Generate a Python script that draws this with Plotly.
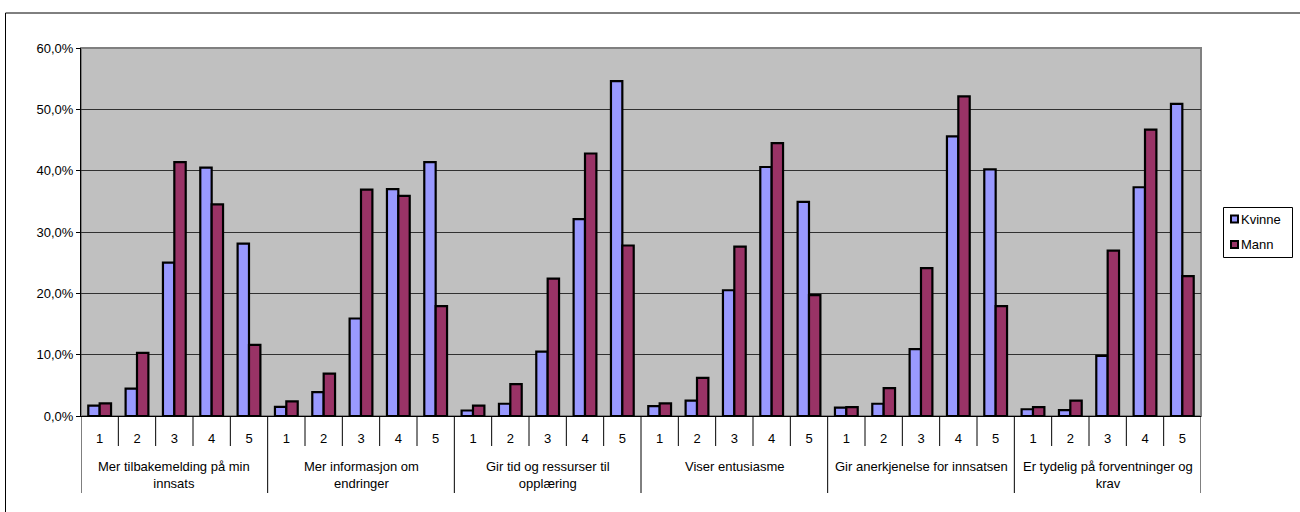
import plotly.graph_objects as go

groups = [
    "Mer tilbakemelding på min<br>innsats",
    "Mer informasjon om<br>endringer",
    "Gir tid og ressurser til<br>opplæring",
    "Viser entusiasme",
    "Gir anerkjenelse for innsatsen",
    "Er tydelig på forventninger og<br>krav",
]
subcats = ["1", "2", "3", "4", "5"]

kvinne = [
    1.7, 4.45, 25.0, 40.5, 28.1,
    1.5, 3.9, 15.9, 37.0, 41.4,
    0.9, 2.0, 10.5, 32.1, 54.6,
    1.6, 2.5, 20.5, 40.6, 34.9,
    1.35, 2.0, 10.9, 45.6, 40.2,
    1.1, 0.95, 9.8, 37.3, 50.9,
]
mann = [
    2.05, 10.3, 41.4, 34.5, 11.6,
    2.4, 6.9, 36.9, 35.9, 17.9,
    1.7, 5.2, 22.4, 42.8, 27.8,
    2.05, 6.2, 27.6, 44.5, 19.7,
    1.45, 4.55, 24.1, 52.1, 17.9,
    1.45, 2.5, 26.95, 46.7, 22.8,
]
series_names = ["Kvinne", "Mann"]
series_colors = ["#9999FF", "#993366"]
y_ticks = [0, 0.1, 0.2, 0.3, 0.4, 0.5, 0.6]

n_sub = len(subcats)
xpos = list(range(len(groups) * n_sub))
ticktext = [s for g in groups for s in subcats]

FONT = "Liberation Sans, Arial, sans-serif"

# plot area geometry (px)
L, R, T, B = 81, 1201, 48, 416
W, H = 1300, 512
ph = B - T
pw = R - L


def py(y):
    return (B - y) / ph


def px(x):
    return (x - L) / pw


fig = go.Figure()
for name, vals, col in zip(series_names, [kvinne, mann], series_colors):
    fig.add_trace(go.Bar(
        x=xpos, y=[v / 100 for v in vals], name=name,
        marker=dict(color=col, line=dict(color="#000000", width=2.2)),
        showlegend=False,
    ))

shapes = []
# grey plot border (top/right)
shapes.append(dict(type="rect", xref="paper", yref="paper", x0=0, x1=1, y0=0, y1=1,
                   line=dict(color="#808080", width=2), layer="below"))
# outer chart border
shapes.append(dict(type="rect", xref="paper", yref="paper",
                   x0=px(5.5), x1=px(1320), y0=py(13), y1=py(530),
                   line=dict(color="#000000", width=1)))
# category separators
for i in range(len(xpos) + 1):
    is_group = (i % n_sub == 0)
    shapes.append(dict(type="line", xref="x", yref="paper",
                       x0=i - 0.5, x1=i - 0.5, y0=0,
                       y1=py(493) if is_group else py(446),
                       line=dict(color="#000000", width=1)))

annotations = []
for gi, g in enumerate(groups):
    annotations.append(dict(x=gi * n_sub + (n_sub - 1) / 2, y=py(457),
                            xref="x", yref="paper", text=g, showarrow=False,
                            xanchor="center", yanchor="top", align="center",
                            font=dict(family=FONT, size=13, color="#000000")))

# legend (box, swatches, labels)
shapes.append(dict(type="rect", xref="paper", yref="paper",
                   x0=px(1223.5), x1=px(1292.5), y0=py(207.5), y1=py(257.5),
                   line=dict(color="#000000", width=1), fillcolor="#FFFFFF"))
for k, (name, col) in enumerate(zip(series_names, series_colors)):
    cy = 219 + k * 25.5
    shapes.append(dict(type="rect", xref="paper", yref="paper",
                       x0=px(1231), x1=px(1238), y0=py(cy - 3.5), y1=py(cy + 3.5),
                       line=dict(color="#000000", width=2), fillcolor=col))
    annotations.append(dict(x=px(1239), y=py(cy), xref="paper", yref="paper",
                            text=name, showarrow=False, xanchor="left",
                            yanchor="middle", align="left",
                            font=dict(family=FONT, size=13, color="#000000")))

fig.update_layout(
    width=W, height=H,
    margin=dict(l=L, r=W - R, t=T, b=H - B, pad=0),
    paper_bgcolor="#FFFFFF",
    plot_bgcolor="#C0C0C0",
    barmode="group", bargap=0.39, bargroupgap=0,
    separators=", ",
    font=dict(family=FONT, size=13, color="#000000"),
    showlegend=False,
    shapes=shapes,
    annotations=annotations,
)
fig.update_xaxes(
    range=[-0.5, len(xpos) - 0.5],
    tickvals=xpos, ticktext=ticktext, ticks="", ticklabelstandoff=10,
    showline=True, linecolor="#000000", linewidth=1,
    showgrid=False, zeroline=False,
    tickfont=dict(family=FONT, size=13, color="#000000"),
)
fig.update_yaxes(
    range=[0, 0.6], tickvals=y_ticks, tickformat=".1%",
    ticks="outside", ticklen=4, tickcolor="#000000",
    showline=True, linecolor="#000000", linewidth=1,
    showgrid=True, gridcolor="#303030", gridwidth=1,
    zeroline=False,
    tickfont=dict(family=FONT, size=13, color="#000000"),
)

fig.write_html("out.html", config={"displayModeBar": False},
               post_script="document.body.style.margin='0';document.body.style.overflow='hidden';")
